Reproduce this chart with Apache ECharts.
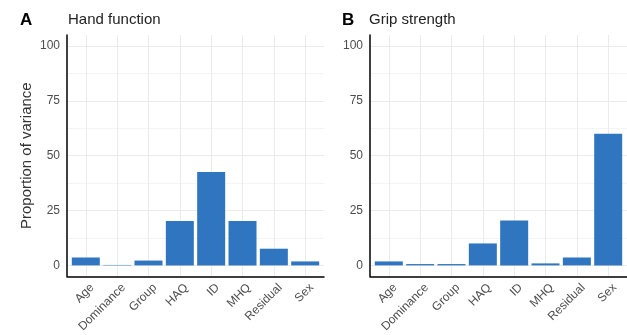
<!DOCTYPE html>
<html>
<head>
<meta charset="utf-8">
<script src="https://cdn.jsdelivr.net/npm/echarts@6/dist/echarts.min.js"></script>
<style>
  html, body { margin: 0; padding: 0; background: #fff; }
  #main { width: 627px; height: 335px; }
</style>
</head>
<body>
<div id="main"></div>
<script>
// categories shared by both panels
const categories = ['Age', 'Dominance', 'Group', 'HAQ', 'ID', 'MHQ', 'Residual', 'Sex'];
// proportion of variance (%)
const handFunction = [3.6, 0.2, 2.2, 20.2, 42.6, 20.2, 7.6, 1.8];
const gripStrength = [1.8, 0.6, 0.6, 10.0, 20.4, 0.9, 3.6, 60.0];
const yTicks = [0, 25, 50, 75, 100];

const font = 'Liberation Sans, Arial, sans-serif';
const barColor = '#2f75bf';

// ggplot-like discrete axis: positions 1..n, padded 0.6 each side
const xAxisFor = (gridIndex) => ({
  type: 'value',
  gridIndex: gridIndex,
  min: 0.4,
  max: categories.length + 0.6,
  minInterval: 1,
  maxInterval: 1,
  axisLine: { show: true, onZero: false, lineStyle: { color: '#000', width: 1.5 } },
  axisTick: { show: false },
  axisLabel: {
    rotate: 45,
    fontSize: 12,
    color: '#4d4d4d',
    fontFamily: font,
    margin: 3,
    verticalAlign: 'top',
    padding: [3, 0, 0, 0],
    showMinLabel: false,
    showMaxLabel: false,
    formatter: (v) => (Number.isInteger(v) ? categories[v - 1] : '')
  },
  splitLine: { show: true, showMinLine: false, showMaxLine: false, lineStyle: { color: '#ebebeb', width: 1 } }
});

const yAxisFor = (gridIndex, withName) => ({
  type: 'value',
  gridIndex: gridIndex,
  min: -5,
  max: 105,
  minInterval: 25,
  maxInterval: 25,
  name: withName ? 'Proportion of variance' : '',
  nameLocation: 'middle',
  nameGap: 33,
  nameTextStyle: { fontSize: 15, color: '#333', fontFamily: font },
  axisLine: { show: true, lineStyle: { color: '#000', width: 1.5 } },
  axisTick: { show: false },
  axisLabel: {
    fontSize: 12,
    color: '#4d4d4d',
    fontFamily: font,
    margin: 7,
    formatter: (v) => (yTicks.indexOf(v) >= 0 ? String(v) : '')
  },
  splitLine: { show: true, showMinLine: false, showMaxLine: false, lineStyle: { color: '#ebebeb', width: 1 } },
  minorTick: { show: false, splitNumber: 2 },
  minorSplitLine: { show: true, lineStyle: { color: '#f4f4f4', width: 1 } }
});

const toPoints = (vals) => vals.map((v, i) => [i + 1, v]);

const chart = echarts.init(document.getElementById('main'), null, { renderer: 'canvas' });
chart.setOption({
  animation: false,
  backgroundColor: '#fff',
  title: [
    { text: 'A', left: 15, top: 7, textStyle: { fontSize: 17, fontWeight: 'bold', color: '#000', fontFamily: font } },
    { text: 'Hand function', left: 63, top: 7, textStyle: { fontSize: 15, fontWeight: 'normal', color: '#222', fontFamily: font } },
    { text: 'B', left: 337, top: 7, textStyle: { fontSize: 17, fontWeight: 'bold', color: '#000', fontFamily: font } },
    { text: 'Grip strength', left: 364, top: 7, textStyle: { fontSize: 15, fontWeight: 'normal', color: '#222', fontFamily: font } }
  ],
  grid: [
    { left: 67, top: 35, width: 257, height: 243 },
    { left: 370, top: 35, width: 257, height: 243 }
  ],
  xAxis: [xAxisFor(0), xAxisFor(1)],
  yAxis: [yAxisFor(0, true), yAxisFor(1, false)],
  series: [
    {
      type: 'bar', xAxisIndex: 0, yAxisIndex: 0, barWidth: 28,
      itemStyle: { color: barColor },
      data: toPoints(handFunction)
    },
    {
      type: 'bar', xAxisIndex: 1, yAxisIndex: 1, barWidth: 28,
      itemStyle: { color: barColor },
      data: toPoints(gripStrength)
    }
  ]
});
</script>
</body>
</html>
